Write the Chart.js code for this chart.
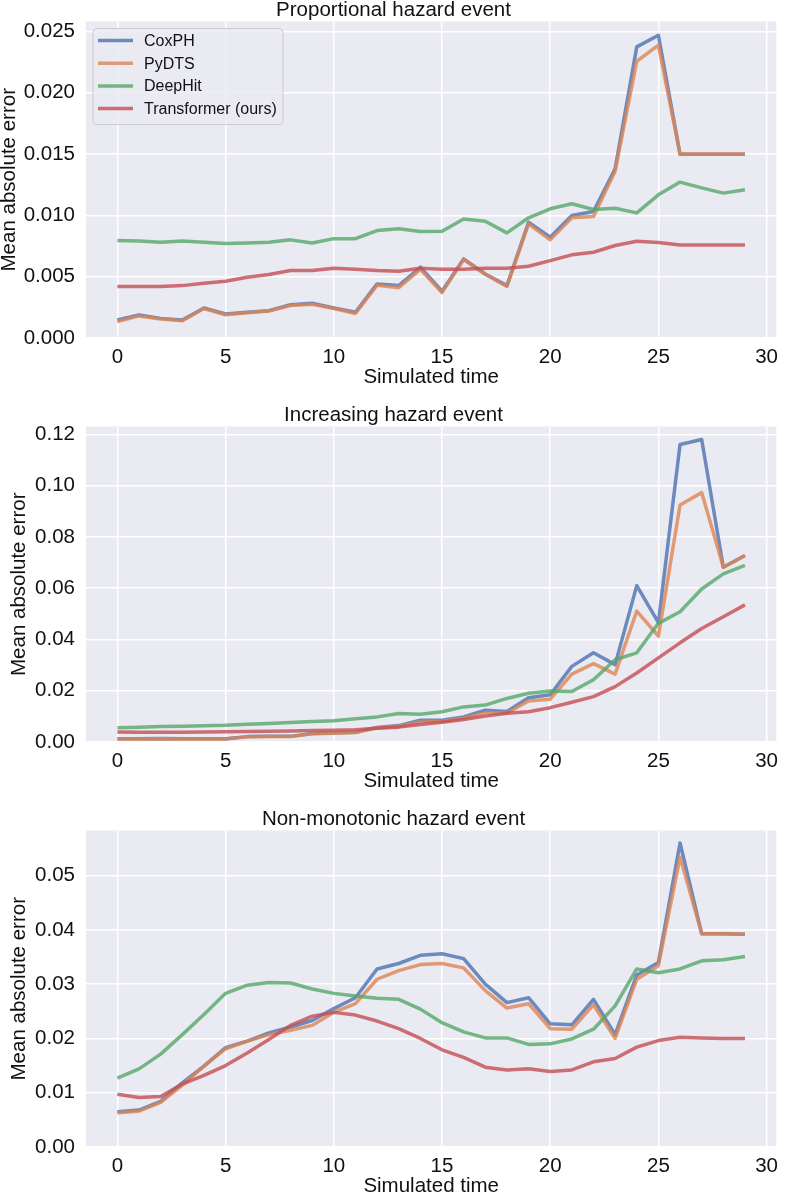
<!DOCTYPE html>
<html>
<head>
<meta charset="utf-8">
<script src="https://cdn.jsdelivr.net/npm/chart.js@4/dist/chart.umd.min.js"></script>
<style>
  html, body { margin: 0; padding: 0; background: #ffffff; overflow: hidden; }
  body { width: 787px; height: 1194px; position: relative; }
  .panel { position: absolute; left: 0; width: 787px; }
</style>
</head>
<body>
<div class="panel" style="top:0px"><canvas id="chart-1" width="787" height="388"></canvas></div>
<div class="panel" style="top:405px"><canvas id="chart-2" width="787" height="387"></canvas></div>
<div class="panel" style="top:809px"><canvas id="chart-3" width="787" height="388"></canvas></div>
<script>
const times = [0, 1, 2, 3, 4, 5, 6, 7, 8, 9, 10, 11, 12, 13, 14, 15, 16, 17, 18, 19, 20, 21, 22, 23, 24, 25, 26, 27, 28, 29];
const x_ticks = [0, 5, 10, 15, 20, 25, 30];
const model_names = ['CoxPH', 'PyDTS', 'DeepHit', 'Transformer (ours)'];

// Proportional hazard event
const coxph_1 = [0.00147, 0.00188, 0.0016, 0.00147, 0.00245, 0.00196, 0.0021, 0.00223, 0.00272, 0.00283, 0.00245, 0.0021, 0.00441, 0.00427, 0.00577, 0.00381, 0.00645, 0.00522, 0.00427, 0.00944, 0.00822, 0.00999, 0.01031, 0.0138, 0.02373, 0.02468, 0.01497, 0.01497, 0.01497, 0.01497];
const pydts_1 = [0.00135, 0.0018, 0.00155, 0.0014, 0.0024, 0.0019, 0.00205, 0.0022, 0.00265, 0.00275, 0.0024, 0.002, 0.0043, 0.0041, 0.0056, 0.0037, 0.0064, 0.0052, 0.0042, 0.0093, 0.008, 0.0098, 0.0099, 0.0136, 0.02256, 0.02387, 0.015, 0.015, 0.015, 0.015];
const deephit_1 = [0.00795, 0.0079, 0.0078, 0.0079, 0.0078, 0.0077, 0.00775, 0.0078, 0.008, 0.00775, 0.0081, 0.0081, 0.00876, 0.0089, 0.00868, 0.0087, 0.0097, 0.00952, 0.00857, 0.0098, 0.01053, 0.01094, 0.01048, 0.01058, 0.0102, 0.01167, 0.01271, 0.01224, 0.01181, 0.01208];
const transformer_1 = [0.0042, 0.0042, 0.0042, 0.00427, 0.00446, 0.00463, 0.00495, 0.00517, 0.0055, 0.0055, 0.00569, 0.0056, 0.0055, 0.00544, 0.00569, 0.0056, 0.0056, 0.00569, 0.00569, 0.00585, 0.00631, 0.00678, 0.00699, 0.00754, 0.00789, 0.00778, 0.00759, 0.00759, 0.00759, 0.00759];
const y_ticks_1 = [0, 0.005, 0.01, 0.015, 0.02, 0.025];

// Increasing hazard event
const coxph_2 = [0.0013, 0.0013, 0.0014, 0.0013, 0.0013, 0.0013, 0.0021, 0.0022, 0.0022, 0.0033, 0.0035, 0.0038, 0.0057, 0.0064, 0.0085, 0.0085, 0.0098, 0.0124, 0.0119, 0.0173, 0.0184, 0.0295, 0.0348, 0.0302, 0.061, 0.0466, 0.1161, 0.118, 0.0682, 0.0728];
const pydts_2 = [0.0012, 0.0012, 0.0013, 0.0012, 0.0012, 0.0012, 0.002, 0.0021, 0.0021, 0.0032, 0.0034, 0.0037, 0.0055, 0.0061, 0.0078, 0.008, 0.0093, 0.0113, 0.0113, 0.016, 0.0167, 0.0265, 0.0306, 0.0265, 0.0511, 0.0413, 0.0925, 0.0973, 0.0682, 0.0728];
const deephit_2 = [0.0056, 0.0058, 0.006, 0.0061, 0.0063, 0.0065, 0.0069, 0.0072, 0.0076, 0.008, 0.0083, 0.0091, 0.0098, 0.0111, 0.0108, 0.0118, 0.0137, 0.0144, 0.017, 0.019, 0.0199, 0.0197, 0.0243, 0.0321, 0.0348, 0.0463, 0.0508, 0.0597, 0.0656, 0.0689];
const transformer_2 = [0.0039, 0.0038, 0.0038, 0.0038, 0.0039, 0.004, 0.0041, 0.0042, 0.0043, 0.0045, 0.0046, 0.0048, 0.0054, 0.0058, 0.0068, 0.0077, 0.0088, 0.0101, 0.0112, 0.0118, 0.0134, 0.0155, 0.0177, 0.0216, 0.0269, 0.0328, 0.0387, 0.0443, 0.0489, 0.0535];
const y_ticks_2 = [0, 0.02, 0.04, 0.06, 0.08, 0.10, 0.12];

// Non-monotonic hazard event
const coxph_3 = [0.0065, 0.0068, 0.0084, 0.0118, 0.0149, 0.0183, 0.0195, 0.021, 0.0221, 0.0233, 0.0255, 0.0275, 0.0328, 0.0338, 0.0353, 0.0356, 0.0347, 0.03, 0.0266, 0.0275, 0.0227, 0.0225, 0.0272, 0.0207, 0.0317, 0.034, 0.056, 0.0393, 0.0393, 0.0392];
const pydts_3 = [0.0063, 0.0066, 0.0082, 0.0114, 0.0149, 0.0181, 0.0195, 0.0207, 0.0215, 0.0224, 0.0248, 0.0264, 0.0309, 0.0325, 0.0336, 0.0338, 0.033, 0.0288, 0.0256, 0.0264, 0.0218, 0.0217, 0.0262, 0.02, 0.0309, 0.0334, 0.0534, 0.0393, 0.0393, 0.0392];
const deephit_3 = [0.0127, 0.0144, 0.0171, 0.0207, 0.0244, 0.0283, 0.0298, 0.0303, 0.0302, 0.0291, 0.0283, 0.0278, 0.0274, 0.0272, 0.0254, 0.0229, 0.0212, 0.0201, 0.0201, 0.0189, 0.019, 0.0199, 0.0217, 0.026, 0.0328, 0.0321, 0.0328, 0.0343, 0.0345, 0.0351];
const transformer_3 = [0.0097, 0.0091, 0.0093, 0.0116, 0.0132, 0.015, 0.0173, 0.0198, 0.0224, 0.0241, 0.0248, 0.0243, 0.0232, 0.0218, 0.02, 0.0179, 0.0165, 0.0147, 0.0142, 0.0144, 0.0139, 0.0142, 0.0157, 0.0163, 0.0184, 0.0196, 0.0202, 0.0201, 0.02, 0.02];
const y_ticks_3 = [0, 0.01, 0.02, 0.03, 0.04, 0.05];

const line_colors = ['rgba(76, 114, 176, 0.8)', 'rgba(221, 132, 82, 0.8)', 'rgba(85, 168, 104, 0.8)', 'rgba(196, 78, 82, 0.8)'];
const font_family = '"Liberation Sans", Arial, Helvetica, sans-serif';
const text_color = '#111111';
const font_size = 20.5;

const plot_bg = {
    id: 'plot_bg',
    beforeDraw(chart) {
        const {ctx, chartArea: a} = chart;
        ctx.save();
        ctx.fillStyle = '#eaeaf2';
        ctx.fillRect(a.left, a.top, a.width, a.height);
        ctx.restore();
    }
};

// matplotlib-like legend box in the upper left of the plot
const inner_legend = {
    id: 'inner_legend',
    afterDatasetsDraw(chart, args, opts) {
        if (!opts.show) return;
        const {ctx, chartArea: a} = chart;
        const left = a.left + 7, top = a.top + 7, w = 190, h = 96;
        ctx.save();
        ctx.beginPath();
        ctx.roundRect(left, top, w, h, 4);
        ctx.fillStyle = 'rgba(234, 234, 242, 0.8)';
        ctx.fill();
        ctx.strokeStyle = '#cccccc';
        ctx.lineWidth = 1;
        ctx.stroke();
        ctx.font = '16px ' + font_family;
        ctx.textBaseline = 'middle';
        chart.data.datasets.forEach((ds, i) => {
            const y = top + 12 + i * 22.7;
            ctx.beginPath();
            ctx.moveTo(left + 5, y);
            ctx.lineTo(left + 40, y);
            ctx.strokeStyle = ds.borderColor;
            ctx.lineWidth = 3.5;
            ctx.stroke();
            ctx.fillStyle = text_color;
            ctx.fillText(ds.label, left + 51, y + 1);
        });
        ctx.restore();
    }
};

function make_datasets(series) {
    return series.map((vals, i) => ({
        label: model_names[i],
        data: times.map((t, j) => ({x: t, y: vals[j]})),
        borderColor: line_colors[i],
        backgroundColor: line_colors[i],
        borderWidth: 3.5,
        borderJoinStyle: 'round',
        pointRadius: 0,
        fill: false,
        tension: 0,
        order: series.length - i
    }));
}

function render_chart(canvas_id, title, series, y_ticks, y_max, decimals, ytitle_pad, show_legend) {
    return new Chart(document.getElementById(canvas_id), {
        type: 'line',
        data: { datasets: make_datasets(series) },
        plugins: [plot_bg, inner_legend],
        options: {
            responsive: false,
            animation: false,
            layout: { padding: 0 },
            plugins: {
                legend: { display: false },
                tooltip: { enabled: false },
                inner_legend: { show: show_legend },
                title: {
                    display: true,
                    text: title,
                    color: text_color,
                    font: { family: font_family, size: font_size, weight: 'normal', lineHeight: 1 },
                    padding: { top: 0, bottom: 1 }
                }
            },
            scales: {
                x: {
                    type: 'linear',
                    min: -1.45,
                    max: 30.45,
                    afterBuildTicks: axis => { axis.ticks = x_ticks.map(v => ({value: v})); },
                    grid: { color: '#ffffff', lineWidth: 1.5, drawTicks: false },
                    border: { display: false },
                    ticks: {
                        color: text_color,
                        padding: 9,
                        maxRotation: 0,
                        font: { family: font_family, size: font_size, lineHeight: 1 },
                        callback: v => String(v)
                    },
                    title: {
                        display: true,
                        text: 'Simulated time',
                        color: text_color,
                        font: { family: font_family, size: font_size, lineHeight: 1 },
                        padding: { top: -9, bottom: 0 }
                    }
                },
                y: {
                    min: 0,
                    max: y_max,
                    afterBuildTicks: axis => { axis.ticks = y_ticks.map(v => ({value: v})); },
                    afterFit: axis => { axis.width = 86; },
                    grid: { color: '#ffffff', lineWidth: 1.5, drawTicks: false },
                    border: { display: false },
                    ticks: {
                        color: text_color,
                        padding: 11,
                        font: { family: font_family, size: font_size, lineHeight: 1 },
                        callback: v => Number(v).toFixed(decimals)
                    },
                    title: {
                        display: true,
                        text: 'Mean absolute error',
                        color: text_color,
                        font: { family: font_family, size: font_size, lineHeight: 1 },
                        padding: { top: ytitle_pad, bottom: 0 }
                    }
                }
            }
        }
    });
}

render_chart('chart-1', 'Proportional hazard event', [coxph_1, pydts_1, deephit_1, transformer_1], y_ticks_1, 0.0258, 3, -1, true);
render_chart('chart-2', 'Increasing hazard event', [coxph_2, pydts_2, deephit_2, transformer_2], y_ticks_2, 0.1231, 2, 9, false);
render_chart('chart-3', 'Non-monotonic hazard event', [coxph_3, pydts_3, deephit_3, transformer_3], y_ticks_3, 0.0583, 2, 9, false);
</script>
</body>
</html>
